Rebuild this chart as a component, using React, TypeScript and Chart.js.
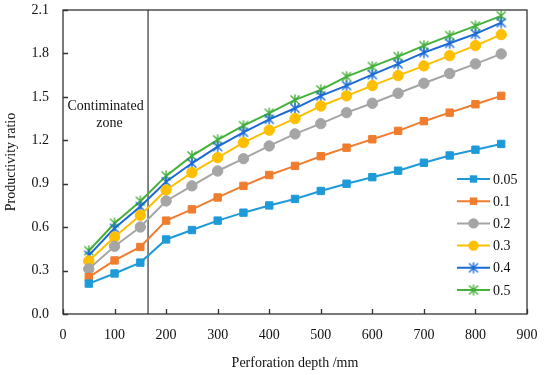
import React, { useEffect, useRef } from "react";
import { Chart, registerables } from "chart.js";
Chart.register(...registerables);

const depths = [50, 100, 150, 200, 250, 300, 350, 400, 450, 500, 550, 600, 650, 700, 750, 800, 850];
const seriesNames = ["0.05", "0.1", "0.2", "0.3", "0.4", "0.5"];
const s005 = [0.21, 0.28, 0.355, 0.515, 0.58, 0.645, 0.7, 0.75, 0.795, 0.85, 0.9, 0.945, 0.99, 1.045, 1.095, 1.135, 1.175];
const s01 = [0.255, 0.37, 0.463, 0.645, 0.723, 0.805, 0.885, 0.96, 1.023, 1.09, 1.149, 1.207, 1.265, 1.332, 1.391, 1.449, 1.507];
const s02 = [0.311, 0.468, 0.601, 0.781, 0.885, 0.988, 1.073, 1.161, 1.244, 1.315, 1.391, 1.456, 1.525, 1.594, 1.661, 1.728, 1.797];
const s03 = [0.366, 0.532, 0.682, 0.857, 0.977, 1.08, 1.184, 1.27, 1.35, 1.437, 1.507, 1.578, 1.647, 1.714, 1.785, 1.854, 1.93];
const s04 = [0.405, 0.592, 0.742, 0.914, 1.041, 1.156, 1.255, 1.345, 1.421, 1.507, 1.578, 1.654, 1.728, 1.806, 1.87, 1.935, 2.013];
const s05 = [0.437, 0.627, 0.779, 0.954, 1.092, 1.203, 1.301, 1.387, 1.479, 1.548, 1.64, 1.709, 1.778, 1.854, 1.923, 1.99, 2.059];
const seriesValues = [s005, s01, s02, s03, s04, s05];
const seriesColors = ["#1e9ad9", "#f07c2e", "#a5a5a5", "#fdbf00", "#1b6ad4", "#45b03a"];
const seriesMarkers = ["rect", "rect", "circle", "circle", "star", "star"];
const zoneBoundary = 165;
const zoneLabel = ["Contiminated", "zone"];
const xTitle = "Perforation depth /mm";
const yTitle = "Productivity ratio";

const FONT = "'Liberation Serif', 'Times New Roman', serif";
const TEXT = "#111";
const FRAME = "#333";

function starCanvas(color: string) {
  const c = document.createElement("canvas");
  c.width = 12;
  c.height = 12;
  const g = c.getContext("2d")!;
  g.strokeStyle = color;
  g.lineWidth = 1.4;
  g.beginPath();
  g.moveTo(6, 0.5);
  g.lineTo(6, 11.5);
  g.moveTo(1.5, 1.5);
  g.lineTo(10.5, 10.5);
  g.moveTo(10.5, 1.5);
  g.lineTo(1.5, 10.5);
  g.stroke();
  return c;
}

export default function App() {
  const ref = useRef<HTMLCanvasElement | null>(null);
  useEffect(() => {
    document.body.style.margin = "0";
    const stars = seriesColors.map((c) => starCanvas(c));
    const pointStyle = (i: number) => (seriesMarkers[i] === "star" ? stars[i] : seriesMarkers[i]);
    const radius = (i: number) => (seriesMarkers[i] === "rect" ? 5.2 : seriesMarkers[i] === "circle" ? 5.2 : 6);

    const datasets: any[] = seriesNames.map((name, i) => ({
      label: name,
      data: depths.map((d, j) => ({ x: d, y: seriesValues[i][j] })),
      borderColor: seriesColors[i],
      backgroundColor: seriesColors[i],
      borderWidth: 2,
      pointStyle: pointStyle(i),
      pointRadius: radius(i),
      pointBorderWidth: 1,
      pointBorderColor: seriesColors[i],
      pointBackgroundColor: seriesColors[i],
      tension: 0,
    }));
    datasets.push({
      label: "boundary",
      data: [
        { x: zoneBoundary, y: 0 },
        { x: zoneBoundary, y: 2.1 },
      ],
      borderColor: "#444",
      borderWidth: 1.3,
      pointRadius: 0,
      order: 10,
    });

    const decor = {
      id: "decor",
      afterDraw(chart: any) {
        const { ctx, chartArea: a, scales } = chart;
        const xs = scales.x;
        const ys = scales.y;
        ctx.save();
        ctx.strokeStyle = FRAME;
        ctx.lineWidth = 1.3;
        ctx.strokeRect(a.left, a.top, a.right - a.left, a.bottom - a.top);
        ctx.beginPath();
        xs.ticks.forEach((t: any) => {
          const px = Math.round(xs.getPixelForValue(t.value)) + 0.5;
          ctx.moveTo(px, a.bottom);
          ctx.lineTo(px, a.bottom - 5);
        });
        ys.ticks.forEach((t: any) => {
          const py = Math.round(ys.getPixelForValue(t.value)) + 0.5;
          ctx.moveTo(a.left, py);
          ctx.lineTo(a.left + 5, py);
        });
        ctx.stroke();
        const bx = xs.getPixelForValue(zoneBoundary);
        const cx = (a.left + bx) / 2;
        ctx.fillStyle = TEXT;
        ctx.font = `14px ${FONT}`;
        ctx.textAlign = "center";
        ctx.textBaseline = "middle";
        ctx.fillText(zoneLabel[0], cx, ys.getPixelForValue(1.435));
        ctx.fillText(zoneLabel[1], cx + 4, ys.getPixelForValue(1.32));
        const lx1 = a.right - 70;
        const lx2 = a.right - 37;
        const mx = (lx1 + lx2) / 2;
        seriesNames.forEach((name, i) => {
          const y = a.top + 169 + i * 22.2;
          ctx.strokeStyle = seriesColors[i];
          ctx.lineWidth = 2;
          ctx.beginPath();
          ctx.moveTo(lx1, y);
          ctx.lineTo(lx2, y);
          ctx.stroke();
          ctx.fillStyle = seriesColors[i];
          if (seriesMarkers[i] === "rect") {
            ctx.fillRect(mx - 3.7, y - 3.7, 7.4, 7.4);
          } else if (seriesMarkers[i] === "circle") {
            ctx.beginPath();
            ctx.arc(mx, y, 5.2, 0, Math.PI * 2);
            ctx.fill();
          } else {
            ctx.drawImage(stars[i], mx - 6, y - 6);
          }
          ctx.fillStyle = TEXT;
          ctx.textAlign = "left";
          ctx.fillText(name, lx2 + 3, y + 1);
        });
        ctx.restore();
      },
    };

    const chart = new Chart(ref.current!, {
      type: "line",
      data: { datasets },
      plugins: [decor],
      options: {
        animation: false,
        responsive: false,
        layout: { padding: { top: 10, right: 23, left: 0, bottom: 0 } },
        plugins: { legend: { display: false }, tooltip: { enabled: false } },
        scales: {
          x: {
            type: "linear",
            min: 0,
            max: 900,
            grid: { display: false, drawTicks: false },
            border: { display: false },
            ticks: { stepSize: 100, padding: 13, color: TEXT, font: { family: FONT, size: 14 }, maxRotation: 0 },
            title: { display: true, text: xTitle, color: TEXT, font: { family: FONT, size: 14 }, padding: { top: 0, bottom: 3 } },
            afterFit: (s: any) => {
              s.height = 61;
              s.paddingLeft = 0;
              s.paddingRight = 0;
            },
          },
          y: {
            type: "linear",
            min: 0,
            max: 2.1,
            grid: { display: false, drawTicks: false },
            border: { display: false },
            ticks: {
              stepSize: 0.3,
              padding: 14,
              color: TEXT,
              font: { family: FONT, size: 14 },
              callback: (v: any) => Number(v).toFixed(1),
            },
            title: { display: true, text: yTitle, color: TEXT, font: { family: FONT, size: 14 }, padding: { top: 3, bottom: 0 } },
            afterFit: (s: any) => {
              s.width = 63;
              s.paddingTop = 0;
              s.paddingBottom = 0;
            },
          },
        },
      },
    });
    return () => chart.destroy();
  }, []);
  return (
    <div style={{ width: 550, height: 375, background: "#fff" }}>
      <canvas ref={ref} width={550} height={375} />
    </div>
  );
}
